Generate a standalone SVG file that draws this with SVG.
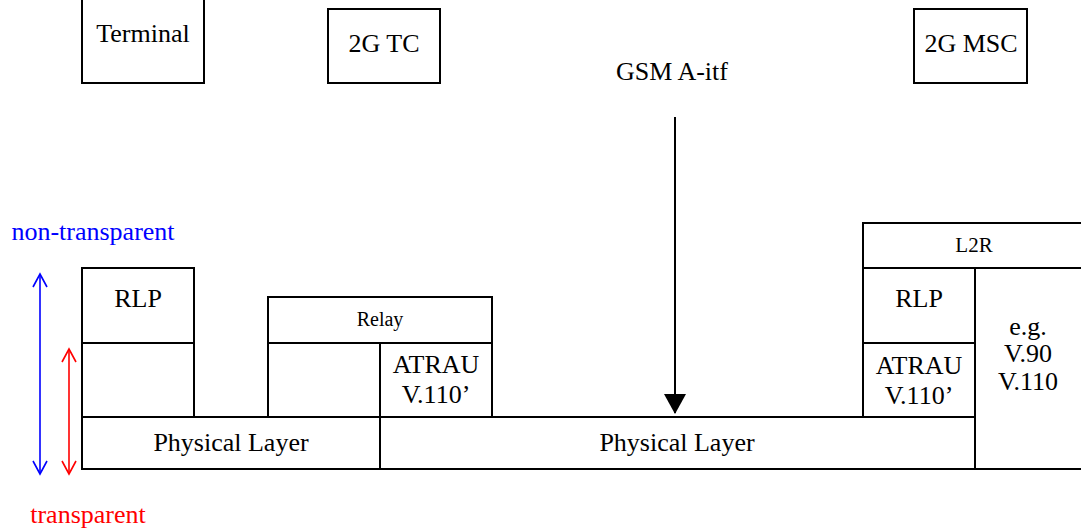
<svg xmlns="http://www.w3.org/2000/svg" width="1081" height="532" viewBox="0 0 1081 532">
<style>
.b{fill:#fff;stroke:#000;stroke-width:2}
.t{font-family:"Liberation Serif","Times New Roman",serif;font-size:26px;fill:#000;text-anchor:middle}
.s{font-size:20px}
.ln{fill:none;stroke-width:1.6}
</style>
<defs>
<marker id="ah" markerWidth="20" markerHeight="22" refX="19" refY="11" orient="auto" markerUnits="userSpaceOnUse">
<path d="M0,0 L20,11 L0,22 Z" fill="#000"/>
</marker>
</defs>
<rect width="1081" height="532" fill="#fff"/>
<g id="terminal"><path d="M82,-2 V83 H204 V-2" class="b"/><text x="143" y="42" class="t">Terminal</text></g>
<g id="tc"><rect x="328" y="9" width="112" height="74" class="b"/><text x="384" y="52" class="t">2G TC</text></g>
<g id="msc"><rect x="914" y="9" width="113" height="74" class="b"/><text x="971" y="52" class="t">2G MSC</text></g>
<g id="aitf"><text x="672" y="80" class="t">GSM A-itf</text></g>
<g id="labels">
<text x="93" y="240" class="t" style="fill:#0000ff">non-transparent</text>
<text x="88" y="523" class="t" style="fill:#ff0000">transparent</text>
</g>
<g id="rlp1"><rect x="82" y="268" width="112" height="75" class="b"/><text x="138" y="307" class="t">RLP</text></g>
<g id="empty1"><rect x="82" y="343" width="112" height="74" class="b"/></g>
<g id="phy1"><rect x="82" y="417" width="298" height="52" class="b"/><text x="231" y="451" class="t">Physical Layer</text></g>
<g id="relay"><rect x="268" y="297" width="224" height="46" class="b"/><text x="380" y="326" class="t s">Relay</text></g>
<g id="empty2"><rect x="268" y="343" width="112" height="74" class="b"/></g>
<g id="atrau1"><rect x="380" y="343" width="112" height="74" class="b"/><text x="436" y="373" class="t">ATRAU</text><text x="436" y="403" class="t">V.110’</text></g>
<g id="phy2"><rect x="380" y="417" width="595" height="52" class="b"/><text x="677" y="451" class="t">Physical Layer</text></g>
<g id="l2r"><rect x="863" y="223" width="222" height="45" class="b"/><text x="974" y="252" class="t" style="font-size:21px">L2R</text></g>
<g id="rlp2"><rect x="863" y="268" width="112" height="75" class="b"/><text x="919" y="307" class="t">RLP</text></g>
<g id="atrau2"><rect x="863" y="343" width="112" height="74" class="b"/><text x="919" y="374" class="t">ATRAU</text><text x="919" y="404" class="t">V.110’</text></g>
<g id="modem"><rect x="975" y="268" width="110" height="201" class="b"/><text x="1028" y="335" class="t">e.g.</text><text x="1028" y="362" class="t">V.90</text><text x="1028" y="390" class="t">V.110</text></g>
<g id="connectors">
<line x1="675" y1="117" x2="675" y2="413" stroke="#000" stroke-width="2" marker-end="url(#ah)"/>
<line x1="40" y1="274" x2="40" y2="474" stroke="#0000ff" class="ln"/>
<path d="M33,287 L40,274 L47,287 M33,461 L40,474 L47,461" stroke="#0000ff" class="ln"/>
<line x1="69" y1="349" x2="69" y2="474" stroke="#ff0000" class="ln"/>
<path d="M62,362 L69,349 L76,362 M62,461 L69,474 L76,461" stroke="#ff0000" class="ln"/>
</g>
</svg>
